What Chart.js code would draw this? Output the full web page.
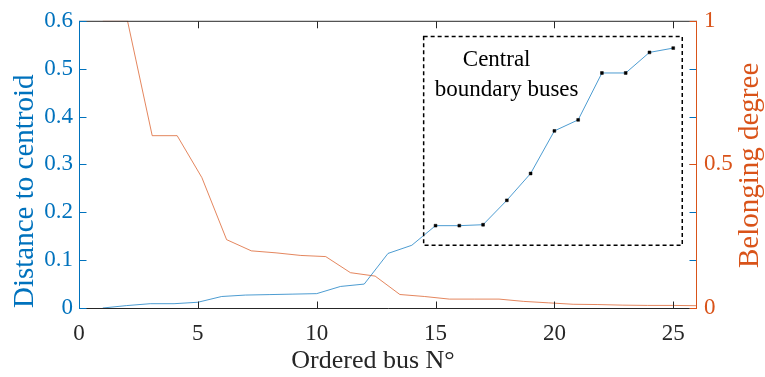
<!DOCTYPE html>
<html lang="en">
<head>
<meta charset="UTF-8">
<title>Distance to centroid / belonging degree</title>
<script src="https://cdn.jsdelivr.net/npm/chart.js@4.4.1/dist/chart.umd.min.js"></script>
<style>
  body { margin: 0; background: #fff; }
  .wrap { width: 765px; height: 377px; }
</style>
</head>
<body>
<div class="wrap"><canvas id="chart"></canvas></div>
<script>
// buses ordered by distance to the centroid
const busNo = [1, 2, 3, 4, 5, 6, 7, 8, 9, 10, 11, 12, 13, 14, 15, 16, 17, 18, 19, 20, 21, 22, 23, 24, 25];
const distance = [0.000, 0.005, 0.009, 0.009, 0.012, 0.024, 0.027, 0.028, 0.029, 0.030, 0.045, 0.050,
                  0.114, 0.131, 0.172, 0.172, 0.174, 0.225, 0.281, 0.370, 0.393, 0.491, 0.491, 0.534, 0.543];

// belonging degree, sampled over 1..26
const degreeX = [1, 2.04, 3.08, 4.13, 5.17, 6.21, 7.25, 8.29, 9.33, 10.38, 11.42, 12.46, 13.5,
                 14.54, 15.58, 16.63, 17.67, 18.71, 19.75, 20.79, 21.83, 22.88, 23.92, 24.96, 26];
const degree = [1.0, 1.0, 0.60, 0.60, 0.454, 0.238, 0.199, 0.192, 0.183, 0.179, 0.123, 0.111, 0.047,
                0.040, 0.031, 0.031, 0.031, 0.023, 0.018, 0.013, 0.012, 0.010, 0.009, 0.009, 0.008];

const xTicks = [0, 5, 10, 15, 20, 25];
const distTicks = [0, 0.1, 0.2, 0.3, 0.4, 0.5, 0.6];
const degreeTicks = [0, 0.5, 1];

const boundaryFrom = 15;   // first of the central boundary buses

const BLUE = '#0072BD';
const ORANGE = '#D95319';
const INK = '#262626';
const serif = "'Liberation Serif', 'Times New Roman', serif";

function strokeTicks(ctx, color, segs) {
  ctx.strokeStyle = color;
  ctx.beginPath();
  segs.forEach(([x0, y0, x1, y1]) => { ctx.moveTo(x0, y0); ctx.lineTo(x1, y1); });
  ctx.stroke();
}

// box, inward ticks and axis labels, drawn over the lines
const framePlugin = {
  id: 'frame',
  afterDatasetsDraw(chart) {
    const { ctx, chartArea: a, scales } = chart;
    const { x, y, y1 } = scales;
    const tl = 7;
    const L = a.left + 0.5, R = a.right - 0.5, T = a.top + 0.5, B = a.bottom + 0.5;
    ctx.save();
    ctx.lineWidth = 1;

    const xs = [];
    xTicks.forEach(v => {
      const px = Math.round(x.getPixelForValue(v)) + 0.5;
      xs.push([px, B, px, B - tl], [px, T, px, T + tl]);
    });
    xs.push([L, T, R, T], [L, B, R + 0.5, B]);
    strokeTicks(ctx, INK, xs);

    const ys = [];
    distTicks.forEach(v => {
      const py = Math.round(y.getPixelForValue(v)) + 0.5;
      ys.push([L, py, L + tl, py], [R, py, R - tl, py]);
    });
    ys.push([L, T - 0.5, L, B + 0.5]);
    strokeTicks(ctx, BLUE, ys);

    const rs = [];
    degreeTicks.forEach(v => {
      const py = Math.round(y1.getPixelForValue(v)) + 0.5;
      rs.push([R + 0.5, py, R - tl, py]);
    });
    rs.push([R, T - 0.5, R, B + 0.5]);
    strokeTicks(ctx, ORANGE, rs);

    ctx.fillStyle = INK;
    ctx.font = `26px ${serif}`;
    ctx.textAlign = 'center';
    ctx.textBaseline = 'alphabetic';
    ctx.fillText('Ordered bus N°', (a.left + a.right) / 2 - 15, a.bottom + 60);

    ctx.translate(y1.right - 15, (a.top + a.bottom) / 2 + 1);
    ctx.rotate(-Math.PI / 2);
    ctx.font = `29px ${serif}`;
    ctx.fillStyle = ORANGE;
    ctx.textBaseline = 'middle';
    ctx.fillText('Belonging degree', 0, 0);
    ctx.restore();
  },
  afterDraw(chart) {
    // dashed box around the central boundary buses
    const { ctx, scales: { x, y } } = chart;
    const left = x.getPixelForValue(14.5), right = x.getPixelForValue(25.38);
    const top = y.getPixelForValue(0.567), bottom = y.getPixelForValue(0.131);
    ctx.save();
    ctx.strokeStyle = '#000';
    ctx.lineWidth = 1.5;
    ctx.setLineDash([4, 3]);
    ctx.strokeRect(left, top, right - left, bottom - top);
    ctx.setLineDash([]);
    ctx.fillStyle = '#000';
    ctx.font = `23px ${serif}`;
    ctx.textAlign = 'center';
    ctx.textBaseline = 'alphabetic';
    ctx.fillText('Central', left + 73, top + 29);
    ctx.fillText('boundary buses', left + 83, top + 59);
    ctx.restore();
  }
};

const noGrid = { display: false, drawTicks: false };

new Chart(document.getElementById('chart'), {
  type: 'line',
  data: {
    datasets: [
      {
        label: 'Distance to centroid',
        data: busNo.map((b, i) => ({ x: b, y: distance[i] })),
        yAxisID: 'y',
        borderColor: 'rgba(0,114,189,0.7)',
        borderWidth: 1,
        tension: 0,
        pointStyle: 'rect',
        pointRadius: c => (busNo[c.dataIndex] >= boundaryFrom ? 2 : 0),
        pointBackgroundColor: '#000',
        pointBorderColor: '#000',
        pointBorderWidth: 0.5,
        pointHoverRadius: 0
      },
      {
        label: 'Belonging degree',
        data: degreeX.map((b, i) => ({ x: b, y: degree[i] })),
        yAxisID: 'y1',
        borderColor: 'rgba(217,83,25,0.7)',
        borderWidth: 1,
        tension: 0,
        pointRadius: 0,
        pointHoverRadius: 0
      }
    ]
  },
  options: {
    responsive: true,
    maintainAspectRatio: false,
    animation: false,
    layout: { padding: { top: 18, left: 0, right: 0, bottom: 0 } },
    plugins: { legend: { display: false }, tooltip: { enabled: false } },
    scales: {
      x: {
        type: 'linear',
        min: 0,
        max: 26,
        afterBuildTicks: s => { s.ticks = xTicks.map(v => ({ value: v })); },
        afterFit: s => { s.height = 69; },
        grid: noGrid,
        border: { display: false },
        ticks: {
          color: INK, padding: 12, maxRotation: 0, autoSkip: false,
          font: { family: serif, size: 23 },
          callback: v => String(v)
        }
      },
      y: {
        position: 'left',
        min: 0,
        max: 0.6,
        afterBuildTicks: s => { s.ticks = distTicks.map(v => ({ value: v })); },
        afterFit: s => { s.width = 79; },
        grid: noGrid,
        border: { display: false },
        ticks: {
          color: BLUE, padding: 6,
          font: { family: serif, size: 23 },
          callback: v => String(v)
        },
        title: {
          display: true, text: 'Distance to centroid', color: BLUE, align: 'start',
          font: { family: serif, size: 29 },
          padding: { top: 8, bottom: 0 }
        }
      },
      y1: {
        position: 'right',
        min: 0,
        max: 1,
        afterBuildTicks: s => { s.ticks = degreeTicks.map(v => ({ value: v })); },
        afterFit: s => { s.width = 68; },
        grid: noGrid,
        border: { display: false },
        ticks: {
          color: ORANGE, padding: 7,
          font: { family: serif, size: 23 },
          callback: v => String(v)
        }
      }
    }
  },
  plugins: [framePlugin]
});
</script>
</body>
</html>
